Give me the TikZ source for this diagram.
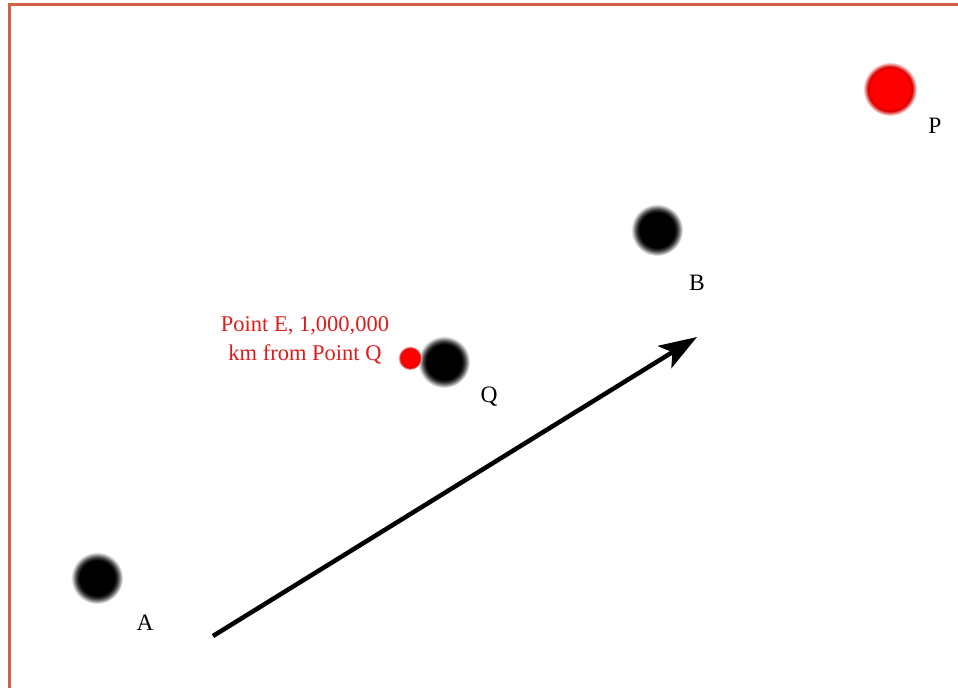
\documentclass[tikz,border=0pt]{standalone}
\usepackage{fontspec}
\setmainfont{Liberation Serif}
\usetikzlibrary{arrows.meta}
\definecolor{framecol}{RGB}{209,96,72}
\definecolor{labred}{RGB}{222,28,28}
\pgfdeclareradialshading{blackdot}{\pgfpointorigin}{color(0bp)=(black); color(17bp)=(black); color(20bp)=(black!75); color(25bp)=(white); color(50bp)=(white)}
\pgfdeclareradialshading{reddot}{\pgfpointorigin}{color(0bp)=(red); color(18bp)=(red); color(20.5bp)=(red!85!black); color(25bp)=(white); color(50bp)=(white)}

\begin{document}
\begin{tikzpicture}[x=1bp, y=-1bp,
    star/.style={shading=blackdot},
    hotstar/.style={shading=reddot},
    lab/.style={font=\fontsize{23.5bp}{28bp}\selectfont},
    elab/.style={text=labred, align=center, font=\fontsize{22.5bp}{29bp}\selectfont},
    vec/.style={line width=4.5bp, -{Stealth[length=38bp, width=26bp, inset=9bp]}},
    frame/.style={framecol, line width=3bp}]
  \useasboundingbox (0,0) rectangle (958,688);
  \draw[frame] (958,5) -| (9,688);
  % the bodies
  \coordinate (A) at (97,578);  \coordinate (Q) at (444,362);
  \coordinate (B) at (657,230); \coordinate (P) at (890,89);
  \coordinate (E) at (410,358);
  \shade[star] (A) circle (26); \shade[star] (Q) circle (26);
  \shade[star] (B) circle (26); \shade[hotstar] (P) circle (27);
  \shade[hotstar] (E) circle (12);
  \node[lab] (la) at (145,623) {A}; \node[lab] (lq) at (489,397) {Q};
  \node[lab] (lb) at (697,283) {B}; \node[lab] (lp) at (935,126) {P};
  \node[elab] (le) at (305,340) {Point E, 1,000,000\\km from Point Q};
  % direction of travel
  \coordinate (vs) at (213,636); \coordinate (ve) at (697,337);
  \draw[vec] (vs) -- (ve);
\end{tikzpicture}
\end{document}
